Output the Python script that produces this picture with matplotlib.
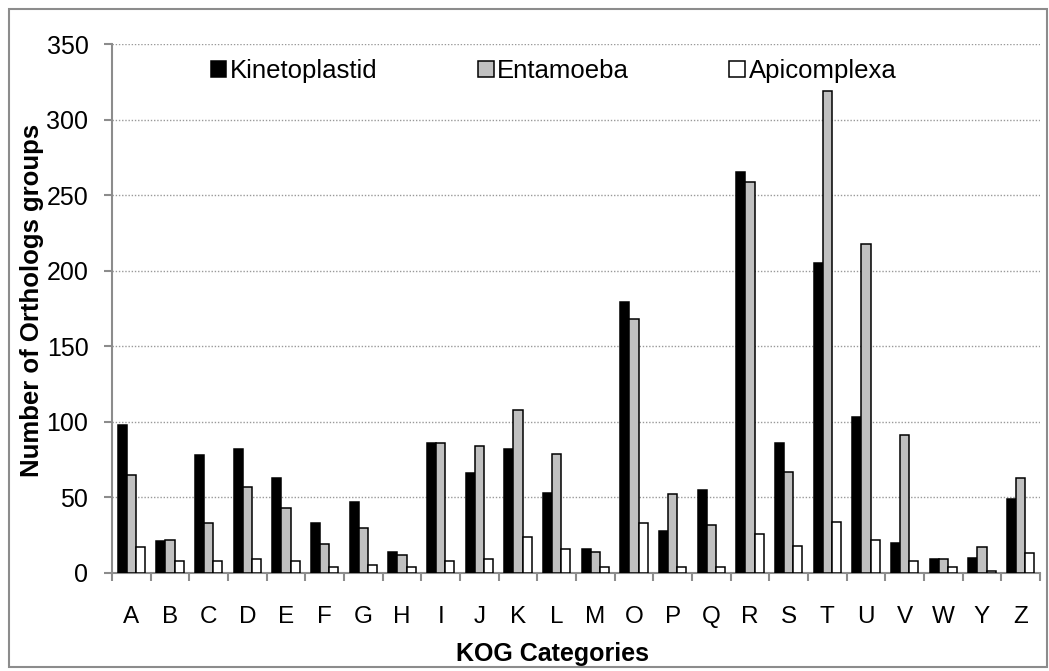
import matplotlib
matplotlib.use("Agg")
import matplotlib.pyplot as plt
import numpy as np
from matplotlib.patches import Rectangle

categories = ["A", "B", "C", "D", "E", "F", "G", "H", "I", "J", "K", "L", "M",
              "O", "P", "Q", "R", "S", "T", "U", "V", "W", "Y", "Z"]
kinetoplastid = [98, 21, 78, 82, 63, 33, 47, 14, 86, 66, 82, 53, 16,
                 179, 28, 55, 265, 86, 205, 103, 20, 9, 10, 49]
entamoeba = [65, 22, 33, 57, 43, 19, 30, 12, 86, 84, 108, 79, 14,
             168, 52, 32, 259, 67, 319, 218, 91, 9, 17, 63]
apicomplexa = [17, 8, 8, 9, 8, 4, 5, 4, 8, 9, 24, 16, 4,
               33, 4, 4, 26, 18, 34, 22, 8, 4, 1, 13]
series_names = ["Kinetoplastid", "Entamoeba", "Apicomplexa"]
series_colors = ["#000000", "#c0c0c0", "#ffffff"]
yticks = [0, 50, 100, 150, 200, 250, 300, 350]

plt.rcParams['font.family'] = ['Liberation Sans', 'DejaVu Sans']

W, H = 1049, 671
fig = plt.figure(figsize=(W / 100, H / 100), dpi=100)
ax = fig.add_axes([112 / W, 1 - 573 / H, (1040 - 112) / W, (573 - 44) / H])

x = np.arange(len(categories))
bw = 0.235
handles = []
for i, (vals, col, name) in enumerate(zip([kinetoplastid, entamoeba, apicomplexa],
                                           series_colors, series_names)):
    b = ax.bar(x + (i - 1) * bw, vals, width=bw, color=col, edgecolor="#000000",
               linewidth=1.1, label=name, zorder=3)
    handles.append(b)

ax.set_xlim(-0.5, len(categories) - 0.5)
ax.set_ylim(0, 350)
ax.set_yticks(yticks)
ax.set_yticklabels([str(v) for v in yticks], fontsize=18)
ax.set_xticks(x)
ax.set_xticklabels(categories, fontsize=17.5)
ax.set_xticks(np.arange(-0.5, len(categories) + 0.5, 1), minor=True)
ax.tick_params(axis='x', which='major', length=0, pad=24)
ax.tick_params(axis='x', which='minor', length=6, width=1.5, color="#8c8c8c", direction='out')
ax.tick_params(axis='y', which='major', length=6, width=1.5, color="#8c8c8c", direction='out', pad=11)

for s in ["top", "right"]:
    ax.spines[s].set_visible(False)
for s in ["left", "bottom"]:
    ax.spines[s].set_color("#8c8c8c")
    ax.spines[s].set_linewidth(1.5)

ax.yaxis.grid(True, linestyle=(0, (1, 1.3)), color="#999999", linewidth=1.0, zorder=0)
ax.set_axisbelow(True)

ax.set_xlabel("KOG Categories", fontsize=18, fontweight='bold', labelpad=10)
ax.xaxis.set_label_coords(0.475, -0.13)
fig.text(32 / W, 1 - 300 / H, "Number of Orthologs groups", rotation=90,
         fontsize=18.5, fontweight='bold', ha='center', va='center')

leg = fig.legend(handles=handles, labels=series_names, loc='center left',
                 bbox_to_anchor=(211 / W, 1 - 71 / H), ncol=3, frameon=False,
                 fontsize=18.5, handlelength=0.6, handleheight=0.6,
                 handletextpad=0.15, columnspacing=3.9, borderpad=0,
                 borderaxespad=0)

fig.patches.append(Rectangle((9 / W, 4 / H), (1047 - 9) / W, (662 - 4) / H,
                             transform=fig.transFigure, fill=False,
                             edgecolor="#8c8c8c", linewidth=1.5))

fig.savefig("out.png", dpi=100)
